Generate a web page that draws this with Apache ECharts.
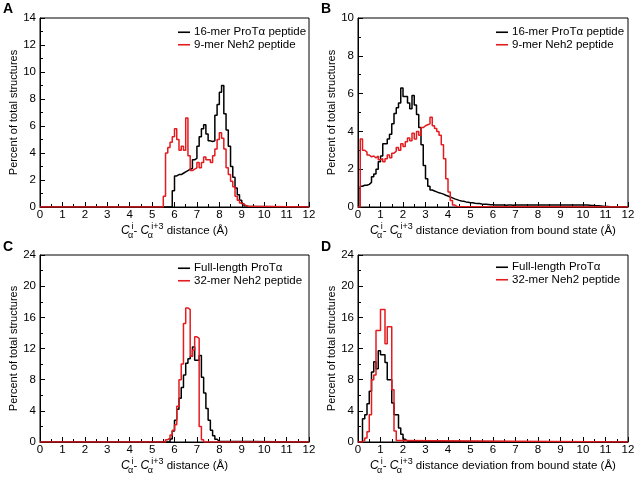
<!DOCTYPE html>
<html><head><meta charset="utf-8">
<script src="https://cdn.jsdelivr.net/npm/echarts@6/dist/echarts.min.js"></script>
<style>html,body{margin:0;padding:0;background:#fff}#c{width:638px;height:477px}</style>
</head><body><div id="c"></div>
<script>
// ---------- data (histograms, bin width 0.1 Å; values = % of total structures) ----------
const BIN = 0.1;
const panelLetters = ['A', 'B', 'C', 'D'];
const namesTop = ['16-mer ProTα peptide', '9-mer Neh2 peptide'];
const namesBottom = ['Full-length ProTα', '32-mer Neh2 peptide'];
const yMaxes = [14, 10, 24, 24];
const ySteps = [2, 2, 4, 4];
const yLabel = 'Percent of total structures';

// Panel A: Cα(i)-Cα(i+3) distance
const aBlackStart = 5.9;
const aBlack = [1.2, 2.3, 2.4, 2.4, 2.5, 2.6, 2.7, 2.8, 2.85, 3.5,
  3.6, 4.5, 5.2, 5.8, 6.1, 5.4, 4.9, 4.85, 4.9, 6.8,
  7.6, 8.5, 9.0, 6.9, 5.7, 4.5, 3.0, 2.2, 1.4, 0.9,
  0.5, 0.25, 0.1, 0.03];
const aRedStart = 5.5;
const aRed = [0.8, 4.0, 4.4, 4.8, 5.2, 5.8, 5.0, 4.2, 4.5, 4.2,
  6.6, 3.8, 2.7, 2.8, 2.9, 3.3, 2.9, 3.3, 3.7, 3.5,
  3.5, 3.3, 3.8, 4.3, 5.0, 5.5, 5.1, 4.3, 2.9, 2.4,
  1.9, 1.5, 0.8, 0.5, 0.3, 0.2, 0.1, 0.05];

// Panel B: deviation from bound state
const bBlackStart = 0.1;
const bBlack = [1.1, 1.15, 1.15, 1.2, 1.3, 1.6, 1.75, 2.0, 2.4, 2.7,
  3.35, 3.35, 3.6, 3.85, 4.4, 4.95, 5.25, 5.5, 6.3, 5.85,
  5.85, 5.5, 5.2, 5.9, 5.4, 4.9, 4.2, 3.3, 2.2, 1.5,
  1.1, 0.9, 0.85, 0.8, 0.75, 0.72, 0.68, 0.62, 0.58, 0.53,
  0.48, 0.43, 0.39, 0.35, 0.32, 0.3, 0.27, 0.25, 0.23, 0.22,
  0.2, 0.19, 0.18, 0.16, 0.15, 0.14, 0.13, 0.12, 0.12, 0.11,
  0.11, 0.1, 0.1, 0.1, 0.09, 0.1, 0.1, 0.09, 0.1, 0.1,
  0.11, 0.1, 0.1, 0.1, 0.11, 0.1, 0.1, 0.1, 0.1, 0.1,
  0.11, 0.1, 0.1, 0.1, 0.1, 0.1, 0.1, 0.11, 0.1, 0.1,
  0.1, 0.1, 0.1, 0.1, 0.1, 0.1, 0.11, 0.1, 0.1, 0.1,
  0.1, 0.09, 0.08, 0.08, 0.07, 0.06, 0.05, 0.04, 0.03, 0.02,
  0.01];
const bRedStart = 0.1;
const bRed = [3.6, 3.0, 2.9, 2.75, 2.65, 2.7, 2.6, 2.7, 2.5, 2.55,
  2.4, 2.55, 2.75, 2.6, 2.85, 2.95, 3.15, 3.0, 3.35, 3.2,
  3.45, 3.65, 3.5, 3.9, 3.6, 4.0, 3.8, 4.2, 4.3, 4.35,
  4.4, 4.75, 4.3, 4.15, 4.0, 3.8, 3.3, 2.55, 1.5, 0.8,
  0.35, 0.1, 0.03];

// Panel C: distance, full-length / 32-mer
const cBlackStart = 5.8;
const cBlack = [0.4, 1.4, 2.8, 4.2, 5.6, 7.0, 8.6, 10.1, 10.7, 11.0,
  12.2, 10.5, 10.5, 11.1, 8.3, 6.3, 4.3, 2.8, 1.5, 0.8,
  0.35, 0.1];
const cRedStart = 5.6;
const cRed = [0.3, 0.5, 0.9, 1.5, 2.2, 4.6, 8.0, 10.0, 15.2, 17.2,
  17.0, 11.0, 11.8, 13.5, 13.3, 2.0, 0.3];

// Panel D: deviation, full-length / 32-mer
const dBlackStart = 0.2;
const dBlack = [3.0, 3.5, 4.9, 6.5, 9.0, 10.3, 9.4, 11.7, 11.2, 11.2,
  10.2, 8.0, 8.0, 5.0, 3.5, 3.5, 1.8, 1.0, 0.35, 0.12,
  0.05];
const dRedStart = 0.2;
const dRed = [0.2, 0.5, 1.3, 3.5, 8.0, 8.6, 14.3, 14.3, 17.0, 17.0,
  12.6, 14.8, 14.8, 6.7, 1.4, 0.2];

// ---------- build ----------
const X_MIN = 0, X_MAX = 12;
function hist(start, vals) {
  const pts = [[X_MIN, 0]];
  vals.forEach((v, i) => pts.push([+(start + i * BIN).toFixed(3), v]));
  pts.push([+(start + vals.length * BIN).toFixed(3), 0]);
  pts.push([X_MAX, 0]);
  return pts;
}

const FONT = '"Liberation Sans", Arial, Helvetica, sans-serif';
const BLACK = '#000000';
const RED = '#e41b1f';

const xNameDist = '{c|C}{s|α}{p|i}{t|- }{c|C}{s|α}{p|i+3}{t| distance (Å)}';
const xNameDev = '{c|C}{s|α}{p|i}{t|- }{c|C}{s|α}{p|i+3}{t| distance deviation from bound state (Å)}';
const xRich = {
  c: {fontStyle: 'italic', fontSize: 12, color: BLACK, fontFamily: FONT},
  s: {fontSize: 9, color: BLACK, padding: [10, 0, 0, 0], width: 2, fontFamily: FONT},
  p: {fontSize: 9, color: BLACK, padding: [0, 0, 9, 0], fontFamily: FONT},
  t: {fontSize: 11.5, color: BLACK, fontFamily: FONT}
};

const grids = [
  {left: 40, top: 18, width: 269, height: 189},
  {left: 358, top: 18, width: 270, height: 189},
  {left: 40, top: 255, width: 269, height: 187},
  {left: 358, top: 255, width: 270, height: 187}
];
const xNames = [xNameDist, xNameDev, xNameDist, xNameDev];
const legendNames = [namesTop, namesTop, namesBottom, namesBottom];
const blacks = [hist(aBlackStart, aBlack), hist(bBlackStart, bBlack), hist(cBlackStart, cBlack), hist(dBlackStart, dBlack)];
const reds = [hist(aRedStart, aRed), hist(bRedStart, bRed), hist(cRedStart, cRed), hist(dRedStart, dRed)];
const legendPos = [{left: 178, top: 26}, {left: 496, top: 26}, {left: 178, top: 262}, {left: 496, top: 261}];
const letterPos = [{left: 3, top: 2}, {left: 321, top: 2}, {left: 3, top: 240}, {left: 321, top: 240}];

const option = {
  animation: false,
  backgroundColor: '#fff',
  textStyle: {fontFamily: FONT, color: BLACK},
  title: panelLetters.map((L, i) => ({
    text: L, left: letterPos[i].left, top: letterPos[i].top, padding: 0,
    textStyle: {fontSize: 14, fontWeight: 'bold', color: BLACK, fontFamily: FONT}
  })),
  grid: grids.map(g => Object.assign({show: true, borderColor: BLACK, borderWidth: 1, backgroundColor: 'transparent'}, g)),
  xAxis: grids.map((g, i) => ({
    type: 'value', gridIndex: i, min: X_MIN, max: X_MAX, interval: 1,
    axisLine: {show: true, onZero: false, lineStyle: {color: BLACK, width: 1}},
    axisTick: {show: true, inside: true, length: 5, lineStyle: {color: BLACK}},
    minorTick: {show: true, splitNumber: 2, length: 3, lineStyle: {color: BLACK}},
    splitLine: {show: false},
    axisLabel: {fontSize: 11.5, color: BLACK, margin: 2, fontFamily: FONT},
    name: xNames[i], nameLocation: 'middle', nameGap: 11,
    nameTextStyle: {rich: xRich, fontSize: 11.5, color: BLACK}
  })),
  yAxis: grids.map((g, i) => ({
    type: 'value', gridIndex: i, min: 0, max: yMaxes[i], interval: ySteps[i],
    axisLine: {show: true, onZero: false, lineStyle: {color: BLACK, width: 1}},
    axisTick: {show: true, inside: true, length: 5, lineStyle: {color: BLACK}},
    minorTick: {show: true, splitNumber: 2, length: 3, lineStyle: {color: BLACK}},
    splitLine: {show: false},
    axisLabel: {fontSize: 11.5, color: BLACK, margin: 4, fontFamily: FONT},
    name: yLabel, nameLocation: 'middle', nameGap: 16,
    nameTextStyle: {fontSize: 11, color: BLACK, fontFamily: FONT}
  })),
  legend: legendNames.map((names, i) => ({
    data: names, orient: 'vertical', left: legendPos[i].left, top: legendPos[i].top,
    icon: 'rect', itemWidth: 12, itemHeight: 1.6, itemGap: 0, padding: 0, selectedMode: false,
    textStyle: {fontSize: 11.5, color: BLACK, fontFamily: FONT, padding: [0, 0, 0, -1], lineHeight: 12.5}
  })),
  series: []
};

for (let i = 0; i < 4; i++) {
  option.series.push({
    type: 'line', name: legendNames[i][0], xAxisIndex: i, yAxisIndex: i,
    data: blacks[i], step: 'end', symbol: 'none', silent: true,
    lineStyle: {color: BLACK, width: 1.5}, itemStyle: {color: BLACK}
  });
}
for (let i = 0; i < 4; i++) {
  option.series.push({
    type: 'line', name: legendNames[i][1], xAxisIndex: i, yAxisIndex: i,
    data: reds[i], step: 'end', symbol: 'none', silent: true,
    lineStyle: {color: RED, width: 1.5}, itemStyle: {color: RED}
  });
}

const chart = echarts.init(document.getElementById('c'), null, {renderer: 'canvas'});
chart.setOption(option);
</script>
</body></html>
